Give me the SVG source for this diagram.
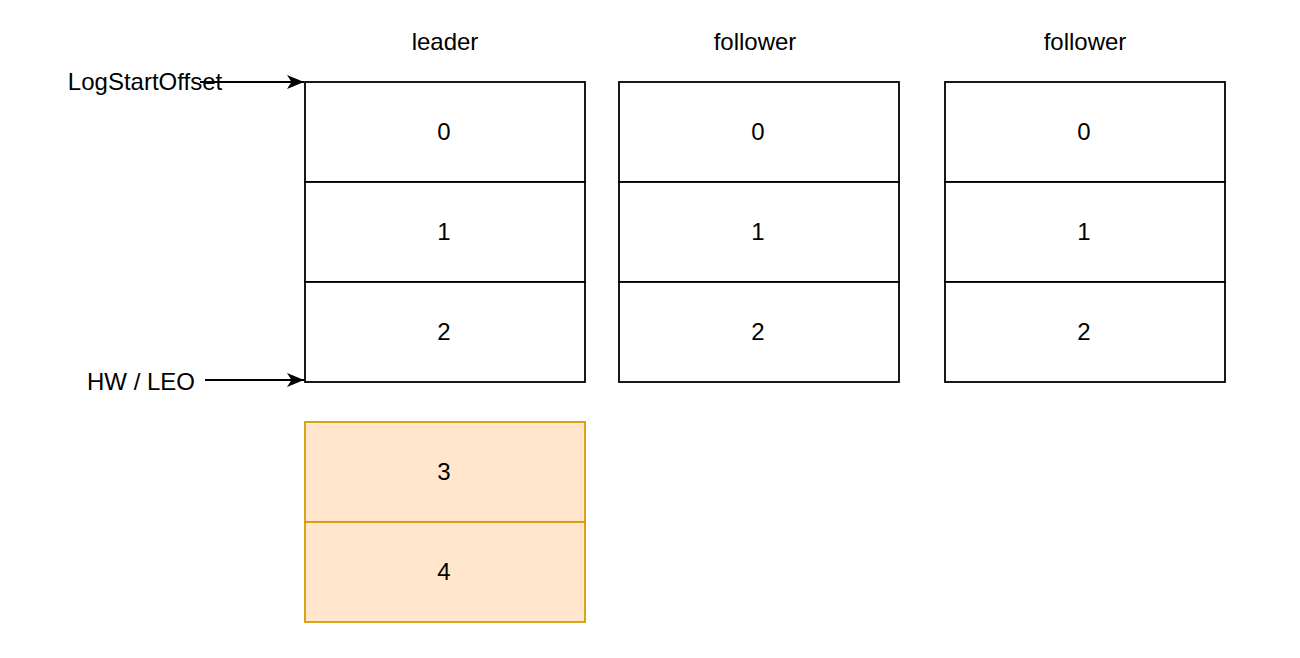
<svg xmlns="http://www.w3.org/2000/svg" width="1300" height="658" viewBox="0 0 1300 658">
<style>
.cell{fill:#ffffff;stroke:#000000;stroke-width:1.8}
.new{fill:#ffe6cc;stroke:#d79b00;stroke-width:1.8}
text{font-family:"Liberation Sans",Arial,sans-serif;font-size:24px;fill:#000000;text-anchor:middle;dominant-baseline:central}
.edge{stroke:#000000;stroke-width:2;fill:none}
</style>
<defs>
<marker id="arrow" markerWidth="18" markerHeight="16" refX="17" refY="8" orient="auto" markerUnits="userSpaceOnUse">
<path d="M0,1 L17,8 L0,15 L4.5,8 Z" fill="#000000"/>
</marker>
</defs>
<rect width="1300" height="658" fill="#ffffff"/>
<g id="header-leader"><text x="445" y="41">leader</text></g>
<g id="header-follower1"><text x="755" y="41">follower</text></g>
<g id="header-follower2"><text x="1085" y="41">follower</text></g>
<g id="label-logstart"><text x="145" y="81">LogStartOffset</text></g>
<g id="label-hw"><text x="141" y="381">HW / LEO</text></g>
<g id="leader-0"><rect class="cell" x="305" y="82" width="280" height="100"/><text x="444" y="131">0</text></g>
<g id="leader-1"><rect class="cell" x="305" y="182" width="280" height="100"/><text x="444" y="231">1</text></g>
<g id="leader-2"><rect class="cell" x="305" y="282" width="280" height="100"/><text x="444" y="331">2</text></g>
<g id="leader-3"><rect class="new" x="305" y="422" width="280" height="100"/><text x="444" y="471">3</text></g>
<g id="leader-4"><rect class="new" x="305" y="522" width="280" height="100"/><text x="444" y="571">4</text></g>
<g id="f1-0"><rect class="cell" x="619" y="82" width="280" height="100"/><text x="758" y="131">0</text></g>
<g id="f1-1"><rect class="cell" x="619" y="182" width="280" height="100"/><text x="758" y="231">1</text></g>
<g id="f1-2"><rect class="cell" x="619" y="282" width="280" height="100"/><text x="758" y="331">2</text></g>
<g id="f2-0"><rect class="cell" x="945" y="82" width="280" height="100"/><text x="1084" y="131">0</text></g>
<g id="f2-1"><rect class="cell" x="945" y="182" width="280" height="100"/><text x="1084" y="231">1</text></g>
<g id="f2-2"><rect class="cell" x="945" y="282" width="280" height="100"/><text x="1084" y="331">2</text></g>
<g id="connectors">
<line class="edge" x1="200" y1="82" x2="304" y2="82" marker-end="url(#arrow)"/>
<line class="edge" x1="205" y1="380" x2="304" y2="380" marker-end="url(#arrow)"/>
</g>
</svg>
